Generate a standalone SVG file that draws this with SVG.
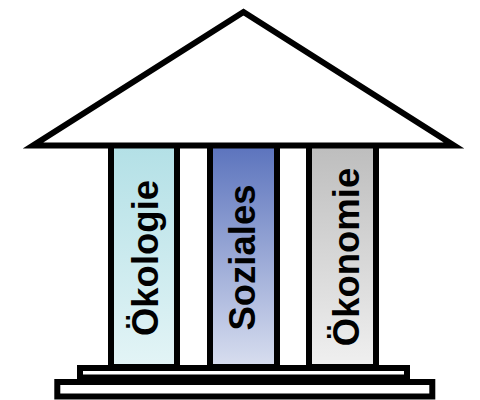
<svg xmlns="http://www.w3.org/2000/svg" width="480" height="400" viewBox="0 0 480 400">
<defs>
<linearGradient id="g1" x1="0" y1="0" x2="0" y2="1"><stop offset="0" stop-color="#b3e0e6"/><stop offset="1" stop-color="#e3f4f6"/></linearGradient>
<linearGradient id="g2" x1="0" y1="0" x2="0" y2="1"><stop offset="0" stop-color="#5b73bd"/><stop offset="1" stop-color="#d8deef"/></linearGradient>
<linearGradient id="g3" x1="0" y1="0" x2="0" y2="1"><stop offset="0" stop-color="#bdbdbd"/><stop offset="1" stop-color="#f0f0f0"/></linearGradient>
<style>
.s{stroke:#000;stroke-width:6;}
.t{font-family:"Liberation Sans",Arial,sans-serif;font-weight:bold;font-size:36.5px;fill:#000;text-anchor:middle;}
</style>
</defs>
<rect width="480" height="400" fill="#fff"/>
<g id="col-oekologie">
<rect class="s" x="111" y="145" width="66" height="222" fill="url(#g1)"/>
<text class="t" transform="translate(158,258) rotate(-90)">Ökologie</text>
</g>
<g id="col-soziales">
<rect class="s" x="210" y="145" width="67" height="222" fill="url(#g2)"/>
<text class="t" transform="translate(255,257.5) rotate(-90)">Soziales</text>
</g>
<g id="col-oekonomie">
<rect class="s" x="309" y="145" width="67" height="222" fill="url(#g3)"/>
<text class="t" transform="translate(359,257) rotate(-90)">Ökonomie</text>
</g>
<g id="roof">
<polygon class="s" points="243.5,12 33,145.5 454,145.5" fill="#fff"/>
</g>
<g id="step-upper">
<rect class="s" x="80" y="368" width="327" height="9.5" fill="#fff"/>
</g>
<g id="step-lower">
<rect class="s" x="57.3" y="382" width="375" height="14.5" fill="#fff"/>
</g>
<g id="connectors"/>
</svg>
